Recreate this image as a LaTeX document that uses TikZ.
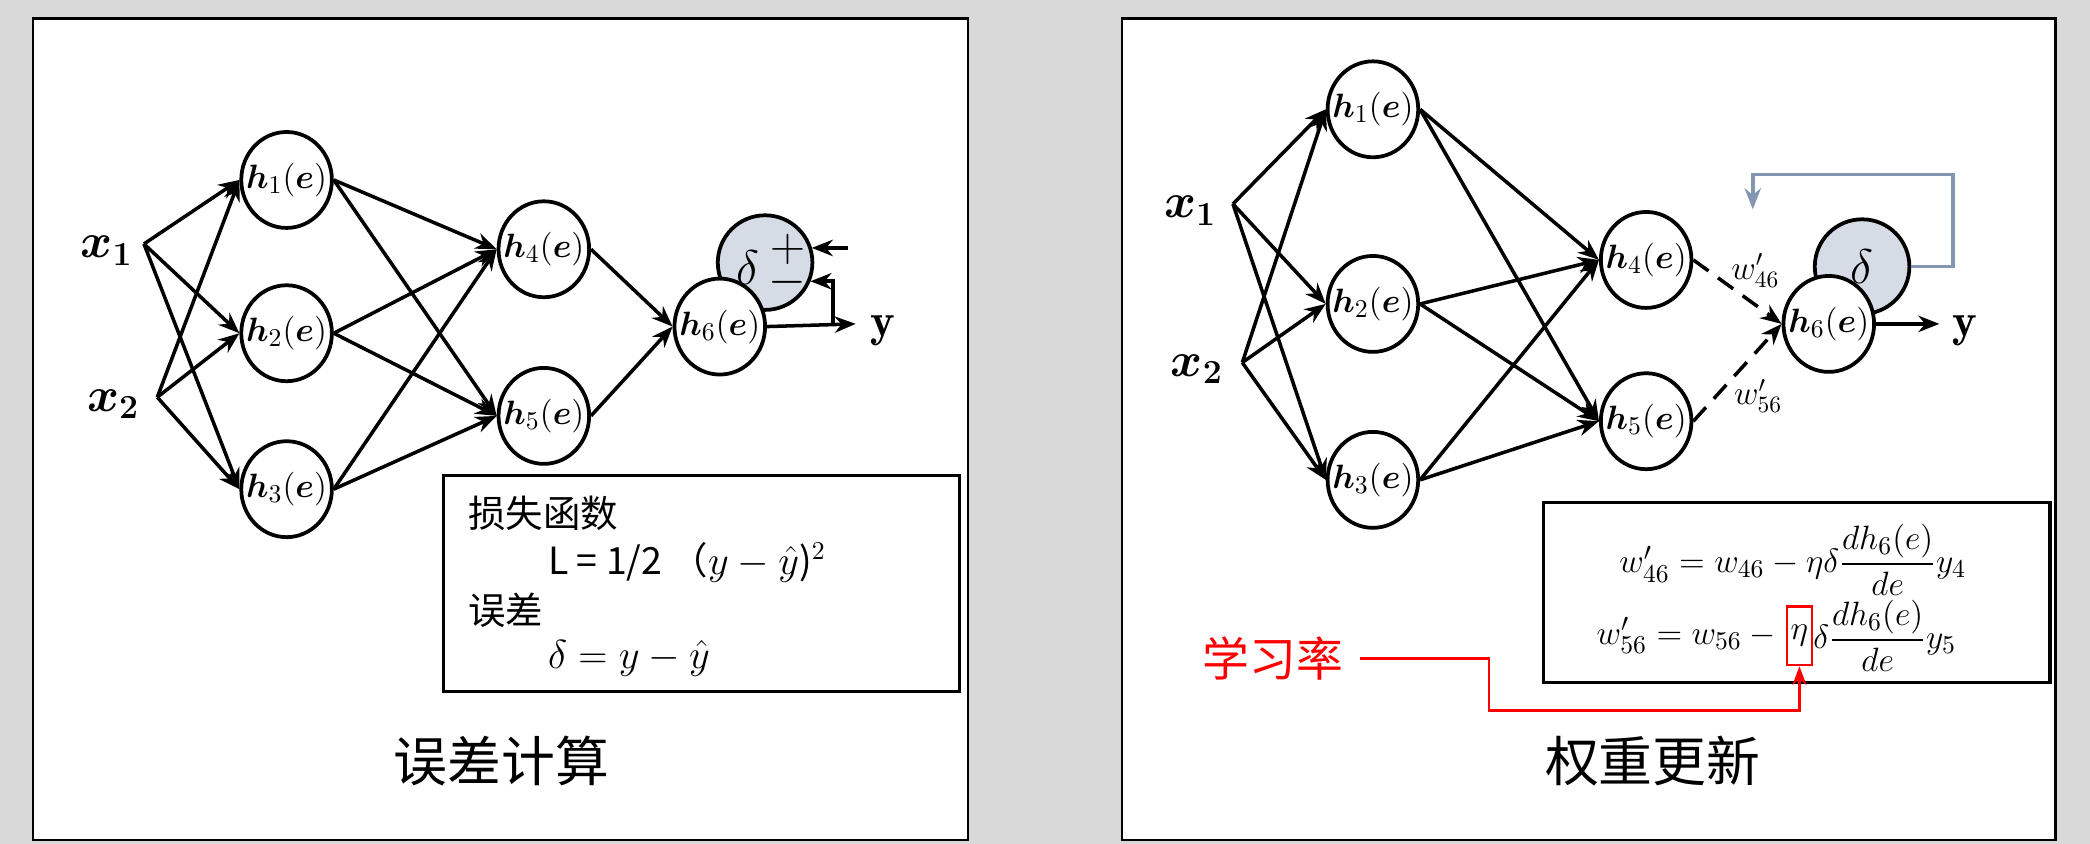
\documentclass[tikz,border=0pt]{standalone}
\usepackage{amsmath,bm}
\usepackage{fontspec}
\newfontfamily\cjk{Noto Sans CJK SC}
\usetikzlibrary{shapes.geometric,arrows.meta}
\definecolor{bgg}{RGB}{217,217,217}
\definecolor{dgray}{RGB}{214,220,229}
\definecolor{fb}{RGB}{132,151,176}
\tikzset{
 neu/.style={draw,line width=1.6pt,ellipse,minimum width=1.36cm,minimum height=1.44cm,inner sep=0pt,fill=white,label={[font=\fontsize{15}{15}\selectfont]center:#1}},
 dnode/.style={draw,line width=1.6pt,circle,minimum size=1.42cm,inner sep=0pt,fill=dgray,font=\fontsize{20}{20}\selectfont},
 con/.style={line width=1.5pt,-{Stealth[length=9pt,width=7pt]}},
 lbl/.style={font=\fontsize{20}{20}\selectfont},
 panel/.style={draw,line width=1pt,fill=white},
}
\begin{document}
\begin{tikzpicture}[x=0.02cm,y=-0.02cm]
\fill[bgg] (0,0) rectangle (1568,633);
\draw[panel] (25,14) rectangle (726,630);
\draw[panel] (842,14) rectangle (1542,630);
% ---------- left panel
\node[dnode] (dl) at (574,197) {};
\node (dlt) at (561,201) {\fontsize{20}{20}\selectfont$\delta$};
\node (plus) at (591,187) {\fontsize{20}{20}\selectfont$+$};
\node (minus) at (591,212) {\fontsize{20}{20}\selectfont$-$};
\node[neu={$\bm{h}_1(\bm{e})$}] (a1) at (215,135) {};
\node[neu={$\bm{h}_2(\bm{e})$}] (a2) at (215,250) {};
\node[neu={$\bm{h}_3(\bm{e})$}] (a3) at (215,367) {};
\node[neu={$\bm{h}_4(\bm{e})$}] (a4) at (408,187) {};
\node[neu={$\bm{h}_5(\bm{e})$}] (a5) at (408,312) {};
\node[neu={$\bm{h}_6(\bm{e})$}] (a6) at (540,245) {};
\node[lbl] (ax1) at (80,188) {$\bm{x_1}$};
\node[lbl] (ax2) at (85,303) {$\bm{x_2}$};
\coordinate (s1) at (108,183);
\coordinate (s2) at (118,298);
\foreach \s in {s1,s2}{\foreach \t in {a1,a2,a3}{\draw[con] (\s) -- (\t.west);}}
\foreach \s in {a1,a2,a3}{\foreach \t in {a4,a5}{\draw[con] (\s.east) -- (\t.west);}}
\foreach \s in {a4,a5}{\draw[con] (\s.east) -- (a6.west);}
\node[lbl] (ay) at (662,248) {$\mathbf{y}$};
\coordinate (ye) at (642,243);
\draw[con] (a6.east) -- (ye);
\coordinate (fbk) at (625,243);
\coordinate (fbm) at (608,211);
\draw[con] (fbk) |- (fbm);
\coordinate (pin) at (636,186);
\coordinate (pend) at (609,186);
\draw[con] (pin) -- (pend);
\node[draw,line width=1.3pt,minimum width=7.74cm,minimum height=3.24cm] (bl) at (526.5,438) {};
\node[anchor=west,font=\cjk\fontsize{16}{16}\selectfont] (t1) at (345,385) {损失函数};
\node[anchor=west,font=\fontsize{16}{16}\selectfont] (t2) at (405,422) {\cjk L = 1/2 （$y-\hat{y}$)$^2$};
\node[anchor=west,font=\cjk\fontsize{16}{16}\selectfont] (t3) at (345,458) {误差};
\node[anchor=west,font=\fontsize{16}{16}\selectfont] (t4) at (405,494) {$\delta=y-\hat{y}$};
\node[font=\cjk\fontsize{23}{23}\selectfont] (ttl) at (376,571) {误差计算};
% ---------- right panel
\node[dnode] (dr) at (1397,200) {$\delta$};
\node[neu={$\bm{h}_1(\bm{e})$}] (b1) at (1030,82) {};
\node[neu={$\bm{h}_2(\bm{e})$}] (b2) at (1030,228) {};
\node[neu={$\bm{h}_3(\bm{e})$}] (b3) at (1030,360) {};
\node[neu={$\bm{h}_4(\bm{e})$}] (b4) at (1235,195) {};
\node[neu={$\bm{h}_5(\bm{e})$}] (b5) at (1235,316) {};
\node[neu={$\bm{h}_6(\bm{e})$}] (b6) at (1372,243) {};
\node[lbl] (bx1) at (893,158) {$\bm{x_1}$};
\node[lbl] (bx2) at (898,277) {$\bm{x_2}$};
\coordinate (r1) at (925,153);
\coordinate (r2) at (932,272);
\foreach \s in {r1,r2}{\foreach \t in {b1,b2,b3}{\draw[con] (\s) -- (\t.west);}}
\foreach \s in {b1,b2,b3}{\foreach \t in {b4,b5}{\draw[con] (\s.east) -- (\t.west);}}
\foreach \s in {b4,b5}{\draw[con,dash pattern=on 8pt off 5pt] (\s.east) -- (b6.west);}
\node[font=\fontsize{14}{14}\selectfont] (w46) at (1317,203) {$w_{46}'$};
\node[font=\fontsize{14}{14}\selectfont] (w56) at (1319,297) {$w_{56}'$};
\node[lbl] (by) at (1474,248) {$\mathbf{y}$};
\coordinate (bye) at (1455,243);
\draw[con] (b6.east) -- (bye);
\coordinate (fr) at (1465,131);
\coordinate (fl) at (1315,157);
\draw[fb,line width=1.6pt,-{Stealth[length=9pt,width=7pt]}] (dr.east) -| (fr) -| (fl);
\node[draw,line width=1.3pt,minimum width=7.6cm,minimum height=2.7cm] (br) at (1348,444.5) {};
\node[font=\fontsize{15}{15}\selectfont] (e1) at (1345,420) {$w_{46}'=w_{46}-\eta\delta\dfrac{dh_6(e)}{de}y_4$};
\node[draw=red,line width=1pt,inner sep=1.5pt,minimum height=0.88cm,font=\fontsize{15}{15}\selectfont] (eta) at (1350,477) {$\eta$};
\node[anchor=east,inner sep=1pt,font=\fontsize{15}{15}\selectfont] (e2a) at (eta.west) {$w_{56}'=w_{56}-{}$};
\node[anchor=west,inner sep=0pt,font=\fontsize{15}{15}\selectfont] (e2b) at (eta.east) {$\delta\dfrac{dh_6(e)}{de}y_5$};
\node[red,font=\cjk\fontsize{20}{20}\selectfont] (lr) at (955,494) {学习率};
\coordinate (c1) at (1117,494);
\coordinate (c2) at (1117,533);
\coordinate (c0) at (1020,494);
\draw[red,line width=1pt,-{Stealth[length=8pt,width=6pt]}] (c0) -- (c1) -- (c2) -| (eta.south);
\node[font=\cjk\fontsize{23}{23}\selectfont] (ttr) at (1240,571) {权重更新};
\end{tikzpicture}
\end{document}
